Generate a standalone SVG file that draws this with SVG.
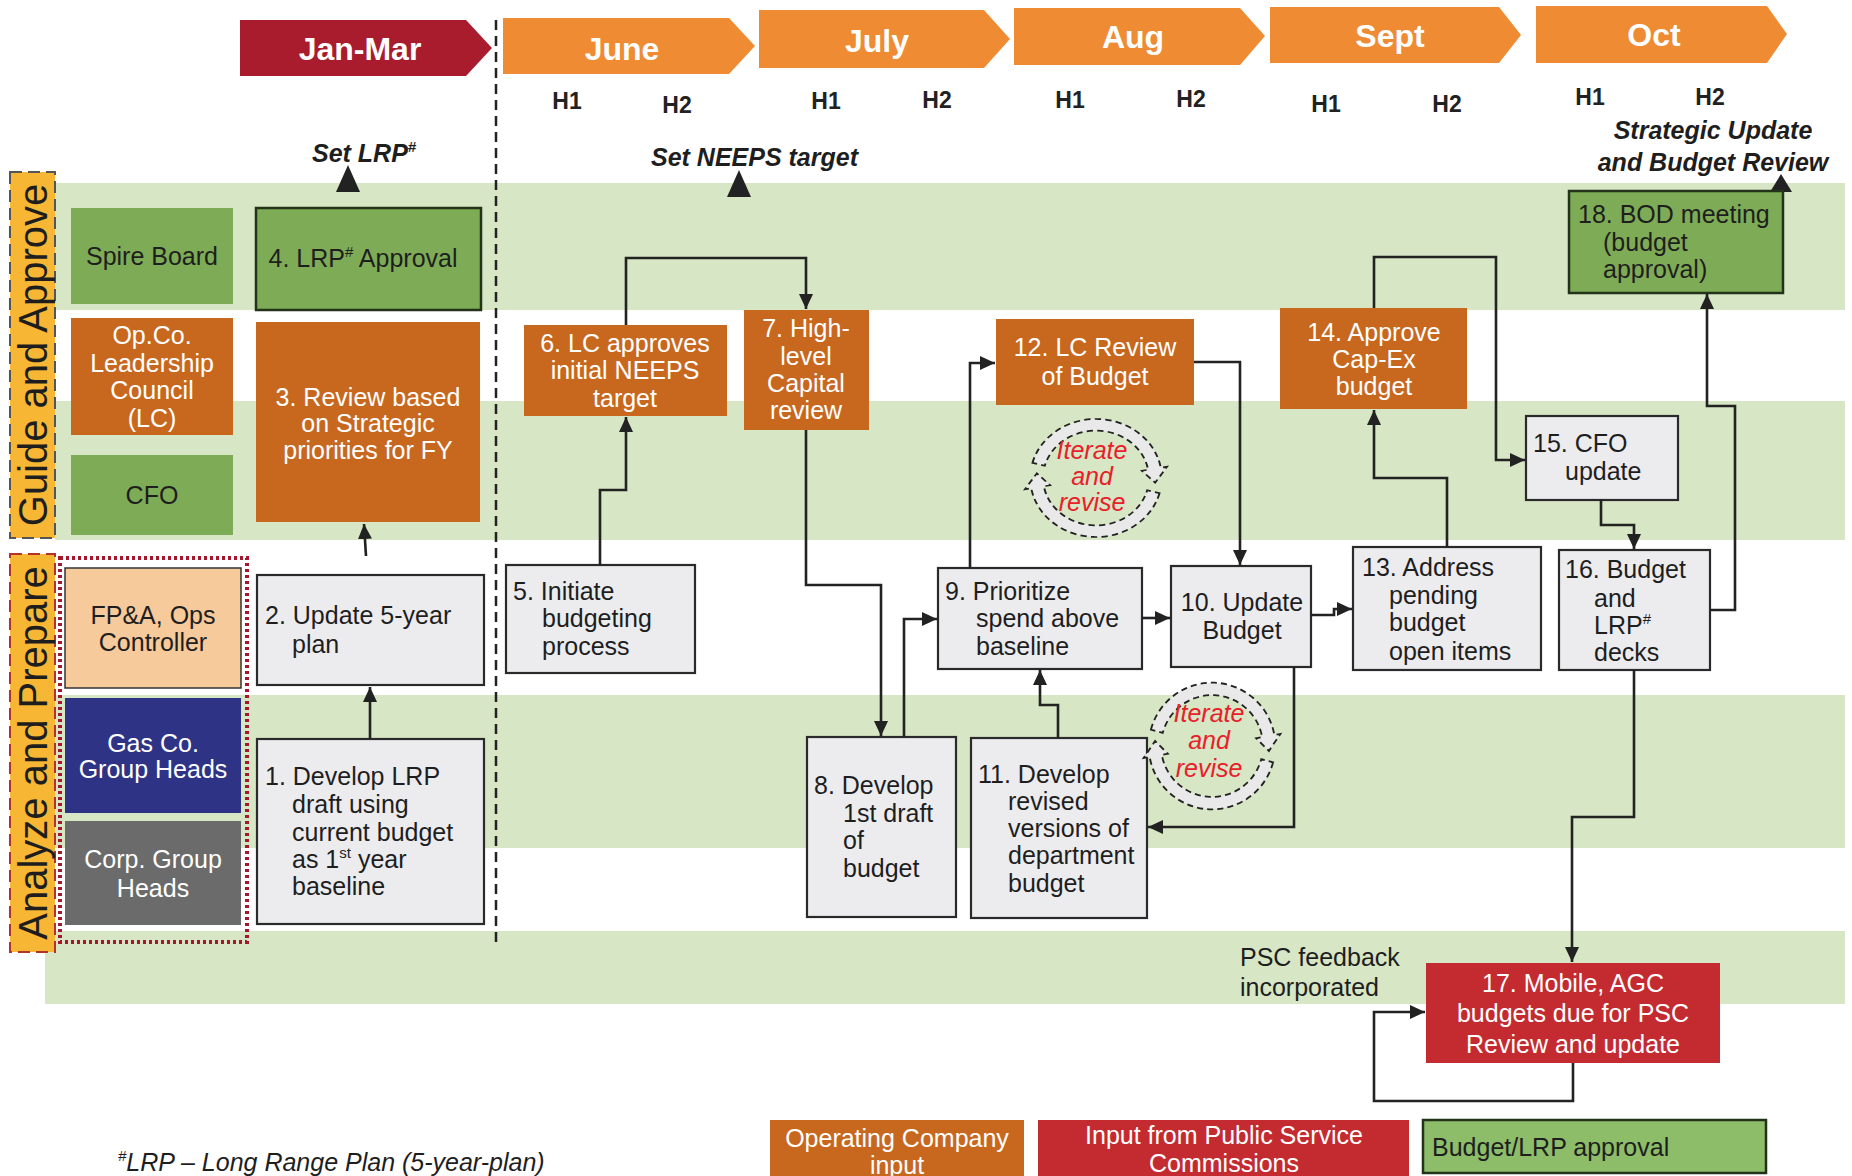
<svg xmlns="http://www.w3.org/2000/svg" width="1852" height="1176" viewBox="0 0 1852 1176">
<style>
text{font-family:"Liberation Sans",Arial,sans-serif;font-size:25px;fill:#1e1e1e}
.w{fill:#fff}
.c{text-anchor:middle}
.hdr{font-weight:bold;font-size:32px;fill:#fff;text-anchor:middle}
.h{font-weight:bold;font-size:23px;text-anchor:middle;fill:#222}
.bi{font-weight:bold;font-style:italic}
.it{font-style:italic;fill:#e8202a;text-anchor:middle}
.band{fill:#d7e6c4}
.org{fill:#c8681f}
.grn{fill:#7eac56}
.gry{fill:#ececef;stroke:#2a2a2a;stroke-width:2.2}
.grnb{fill:#7eac56;stroke:#23331a;stroke-width:2.5}
.red{fill:#c42b30}
.conn path{fill:none;stroke:#222;stroke-width:2.6;marker-end:url(#ah)}
.lab{font-size:40px;fill:#1e1e1e}
.iter{fill:#e9e9ea;stroke:#222;stroke-width:1.8;stroke-dasharray:6 4}
</style>
<defs>
<marker id="ah" markerUnits="userSpaceOnUse" markerWidth="16" markerHeight="14" refX="15" refY="7" orient="auto">
<path d="M0,0 L15,7 L0,14 z" fill="#222"/>
</marker>
<path id="carc" d="M-59.9,-16 A62,62 0 0 1 61.1,-10.8 L67,-11.8 L55.8,4.9 L43.3,-7.6 L49.2,-8.7 A50,50 0 0 0 -48.3,-12.9 Z"/>
</defs>
<rect width="1852" height="1176" fill="#fff"/>

<!-- bands -->
<g id="bands">
<rect class="band" x="55" y="183" width="1790" height="127"/>
<rect class="band" x="55" y="401" width="1790" height="139"/>
<rect class="band" x="55" y="695" width="1790" height="153"/>
<rect class="band" x="45" y="931" width="1800" height="73"/>
</g>

<!-- header -->
<g id="header">
<path d="M240,20 H466 L492,48 L466,76 H240 Z" fill="#a81c2d"/>
<text class="hdr" x="360" y="60">Jan-Mar</text>
<path d="M503,18 H729 L755,46 L729,74 H503 Z" fill="#ee8b33"/>
<text class="hdr" x="622" y="60">June</text>
<path d="M759,10 H984 L1010,39 L984,68 H759 Z" fill="#ee8b33"/>
<text class="hdr" x="877" y="52">July</text>
<path d="M1014,8 H1240 L1265,36 L1240,65 H1014 Z" fill="#ee8b33"/>
<text class="hdr" x="1133" y="48">Aug</text>
<path d="M1270,7 H1499 L1521,35 L1499,63 H1270 Z" fill="#ee8b33"/>
<text class="hdr" x="1390" y="47">Sept</text>
<path d="M1536,6 H1767 L1787,34 L1767,63 H1536 Z" fill="#ee8b33"/>
<text class="hdr" x="1654" y="46">Oct</text>
<text class="h" x="567" y="109">H1</text>
<text class="h" x="677" y="113">H2</text>
<text class="h" x="826" y="109">H1</text>
<text class="h" x="937" y="108">H2</text>
<text class="h" x="1070" y="108">H1</text>
<text class="h" x="1191" y="107">H2</text>
<text class="h" x="1326" y="112">H1</text>
<text class="h" x="1447" y="112">H2</text>
<text class="h" x="1590" y="105">H1</text>
<text class="h" x="1710" y="105">H2</text>
<line x1="496" y1="20" x2="496" y2="945" stroke="#222" stroke-width="2.5" stroke-dasharray="10 6"/>
</g>

<!-- milestones -->
<g id="milestones">
<text class="bi" x="312" y="162">Set LRP<tspan font-size="15" dy="-10">#</tspan></text>
<path d="M348,165 L360,192 L336,192 Z" fill="#222"/>
<text class="bi" x="651" y="166">Set NEEPS target</text>
<path d="M739,170 L751,197 L727,197 Z" fill="#222"/>
<text class="bi c" x="1713" y="139">Strategic Update</text>
<text class="bi c" x="1713" y="171">and Budget Review</text>
<path d="M1781,174 L1792,192 L1770,192 Z" fill="#222"/>
</g>

<!-- swimlane labels -->
<g id="lane-guide">
<rect x="10" y="172" width="45" height="366" fill="#f7b634" stroke="#555" stroke-width="2" stroke-dasharray="12 6"/>
<text class="lab c" transform="translate(47,355) rotate(-90)">Guide and Approve</text>
</g>
<g id="lane-analyze">
<rect x="10" y="554" width="45" height="398" fill="#f7b634" stroke="#b5322a" stroke-width="2" stroke-dasharray="12 6"/>
<text class="lab c" transform="translate(47,753) rotate(-90)">Analyze and Prepare</text>
</g>

<!-- roles -->
<g id="spire-board"><rect class="grn" x="71" y="208" width="162" height="96"/><text class="c" x="152" y="265">Spire Board</text></g>
<g id="opco-lc"><rect class="org" x="71" y="318" width="162" height="117"/>
<text class="c w" x="152" y="344">Op.Co.</text><text class="c w" x="152" y="372">Leadership</text><text class="c w" x="152" y="399">Council</text><text class="c w" x="152" y="427">(LC)</text></g>
<g id="cfo"><rect class="grn" x="71" y="455" width="162" height="80"/><text class="c" x="152" y="504">CFO</text></g>
<g id="prepare-group"><rect x="60" y="558" width="187" height="384" fill="none" stroke="#a3182d" stroke-width="4" stroke-dasharray="3 3"/></g>
<g id="fpa"><rect x="65" y="568" width="176" height="120" fill="#f7ca9c" stroke="#333" stroke-width="1.5"/>
<text class="c" x="153" y="624">FP&amp;A, Ops</text><text class="c" x="153" y="651">Controller</text></g>
<g id="gasco"><rect x="65" y="698" width="176" height="115" fill="#2e3386"/>
<text class="c w" x="153" y="752">Gas Co.</text><text class="c w" x="153" y="778">Group Heads</text></g>
<g id="corp"><rect x="65" y="821" width="176" height="104" fill="#6b6b6b"/>
<text class="c w" x="153" y="868">Corp. Group</text><text class="c w" x="153" y="897">Heads</text></g>

<!-- process nodes -->
<g id="n1"><rect class="gry" x="257" y="739" width="227" height="185"/>
<text x="265" y="785">1. Develop LRP</text><text x="292" y="813">draft using</text><text x="292" y="841">current budget</text><text x="292" y="868">as 1<tspan font-size="15" dy="-10">st</tspan><tspan dy="10"> year</tspan></text><text x="292" y="895">baseline</text></g>
<g id="n2"><rect class="gry" x="257" y="575" width="227" height="110"/>
<text x="265" y="624">2. Update 5-year</text><text x="292" y="653">plan</text></g>
<g id="n3"><rect class="org" x="256" y="322" width="224" height="200"/>
<text class="c w" x="368" y="406">3. Review based</text><text class="c w" x="368" y="432">on Strategic</text><text class="c w" x="368" y="459">priorities for FY</text></g>
<g id="n4"><rect class="grnb" x="256" y="208" width="225" height="102"/>
<text class="c" x="363" y="267">4. LRP<tspan font-size="15" dy="-10">#</tspan><tspan dy="10"> Approval</tspan></text></g>
<g id="n5"><rect class="gry" x="506" y="565" width="189" height="108"/>
<text x="513" y="600">5. Initiate</text><text x="542" y="627">budgeting</text><text x="542" y="655">process</text></g>
<g id="n6"><rect class="org" x="524" y="325" width="203" height="91"/>
<text class="c w" x="625" y="352">6. LC approves</text><text class="c w" x="625" y="379">initial NEEPS</text><text class="c w" x="625" y="407">target</text></g>
<g id="n7"><rect class="org" x="744" y="310" width="125" height="120"/>
<text class="c w" x="806" y="337">7. High-</text><text class="c w" x="806" y="365">level</text><text class="c w" x="806" y="392">Capital</text><text class="c w" x="806" y="419">review</text></g>
<g id="n8"><rect class="gry" x="807" y="737" width="149" height="180"/>
<text x="814" y="794">8. Develop</text><text x="843" y="822">1st draft</text><text x="843" y="849">of</text><text x="843" y="877">budget</text></g>
<g id="n9"><rect class="gry" x="938" y="568" width="204" height="101"/>
<text x="945" y="600">9. Prioritize</text><text x="976" y="627">spend above</text><text x="976" y="655">baseline</text></g>
<g id="n10"><rect class="gry" x="1171" y="566" width="140" height="101"/>
<text class="c" x="1242" y="611">10. Update</text><text class="c" x="1242" y="639">Budget</text></g>
<g id="n11"><rect class="gry" x="971" y="738" width="176" height="180"/>
<text x="978" y="783">11. Develop</text><text x="1008" y="810">revised</text><text x="1008" y="837">versions of</text><text x="1008" y="864">department</text><text x="1008" y="892">budget</text></g>
<g id="n12"><rect class="org" x="996" y="319" width="198" height="86"/>
<text class="c w" x="1095" y="356">12. LC Review</text><text class="c w" x="1095" y="385">of Budget</text></g>
<g id="n13"><rect class="gry" x="1353" y="547" width="188" height="123"/>
<text x="1362" y="576">13. Address</text><text x="1389" y="604">pending</text><text x="1389" y="631">budget</text><text x="1389" y="660">open items</text></g>
<g id="n14"><rect class="org" x="1280" y="308" width="187" height="101"/>
<text class="c w" x="1374" y="341">14. Approve</text><text class="c w" x="1374" y="368">Cap-Ex</text><text class="c w" x="1374" y="395">budget</text></g>
<g id="n15"><rect class="gry" x="1526" y="416" width="152" height="84"/>
<text x="1533" y="452">15. CFO</text><text x="1565" y="480">update</text></g>
<g id="n16"><rect class="gry" x="1559" y="550" width="151" height="120"/>
<text x="1565" y="578">16. Budget</text><text x="1594" y="607">and</text><text x="1594" y="634">LRP<tspan font-size="15" dy="-10">#</tspan></text><text x="1594" y="661">decks</text></g>
<g id="n17"><rect class="red" x="1426" y="963" width="294" height="100"/>
<text class="c w" x="1573" y="992">17. Mobile, AGC</text><text class="c w" x="1573" y="1022">budgets due for PSC</text><text class="c w" x="1573" y="1053">Review and update</text></g>
<g id="n18"><rect class="grnb" x="1569" y="191" width="214" height="102"/>
<text x="1578" y="223">18. BOD meeting</text><text x="1603" y="251">(budget</text><text x="1603" y="278">approval)</text></g>

<!-- iterate loops -->
<g id="iterate1" transform="translate(1096,478) scale(1.06,0.95)">
<use href="#carc" class="iter"/><use href="#carc" class="iter" transform="rotate(180)"/>
</g>
<g id="iterate1-text"><text class="it" x="1092" y="459">Iterate</text><text class="it" x="1092" y="485">and</text><text class="it" x="1092" y="511">revise</text></g>
<g id="iterate2" transform="translate(1212,746) scale(1.02,1.02)">
<use href="#carc" class="iter"/><use href="#carc" class="iter" transform="rotate(180)"/>
</g>
<g id="iterate2-text"><text class="it" x="1209" y="722">Iterate</text><text class="it" x="1209" y="749">and</text><text class="it" x="1209" y="777">revise</text></g>

<text x="1240" y="966">PSC feedback</text>
<text x="1240" y="996">incorporated</text>

<!-- connectors -->
<g id="connectors" class="conn">
<path d="M370,739 V687"/>
<path d="M366,556 L364,524"/>
<path d="M600,565 V490 H626 V417"/>
<path d="M626,325 V258 H806 V309"/>
<path d="M806,430 V585 H881 V736"/>
<path d="M904,737 V619 H937"/>
<path d="M970,568 V363 H995"/>
<path d="M1194,362 H1240 V565"/>
<path d="M1142,618 H1170"/>
<path d="M1294,667 V827 H1148"/>
<path d="M1058,738 V705 H1040 V670"/>
<path d="M1311,615 H1334 V609 H1352"/>
<path d="M1447,547 V478 H1374 V410"/>
<path d="M1374,308 V257 H1496 V460 H1525"/>
<path d="M1601,500 V525 H1634 V549"/>
<path d="M1710,610 H1735 V406 H1707 V294"/>
<path d="M1634,670 V817 H1572 V962"/>
<path d="M1573,1063 V1101 H1374 V1012 H1425"/>
</g>

<!-- legend -->
<g id="legend-opco"><rect class="org" x="770" y="1120" width="254" height="60"/>
<text class="c w" x="897" y="1147">Operating Company</text><text class="c w" x="897" y="1174">input</text></g>
<g id="legend-psc"><rect class="red" x="1038" y="1120" width="371" height="60"/>
<text class="c w" x="1224" y="1144">Input from Public Service</text><text class="c w" x="1224" y="1172">Commissions</text></g>
<g id="legend-approval"><rect x="1423" y="1120" width="343" height="53" fill="#8dbd69" stroke="#23331a" stroke-width="2.5"/>
<text x="1432" y="1156">Budget/LRP approval</text></g>
<text x="118" y="1171" font-style="italic"><tspan font-size="15" dy="-10">#</tspan><tspan dy="10">LRP – Long Range Plan (5-year-plan)</tspan></text>
</svg>
